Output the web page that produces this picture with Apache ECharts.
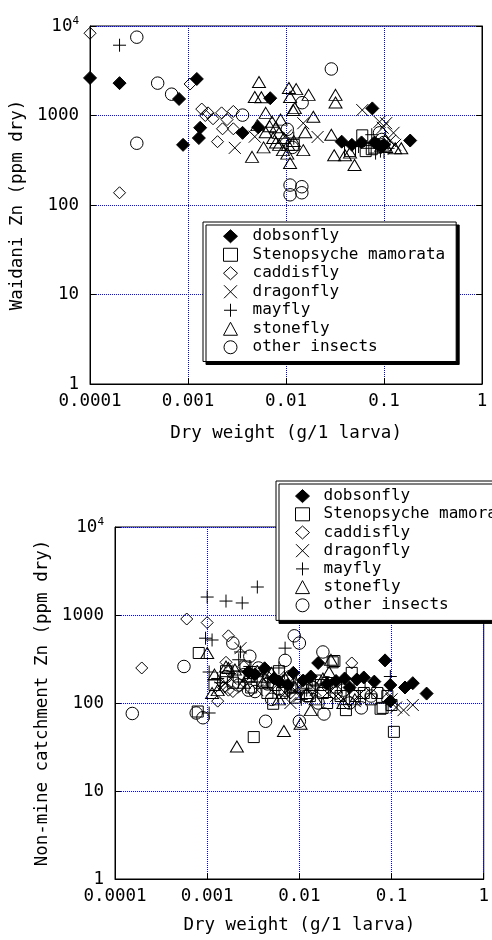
<!DOCTYPE html>
<html>
<head>
<meta charset="utf-8">
<script src="https://cdn.jsdelivr.net/npm/echarts@6/dist/echarts.min.js"></script>
<style>
html, body { margin: 0; padding: 0; background: #fff; }
#chart { width: 492px; height: 940px; }
</style>
</head>
<body>
<div id="chart"></div>
<script>
// categories (legend order)
var categories = ['dobsonfly', 'Stenopsyche mamorata', 'caddisfly', 'dragonfly', 'mayfly', 'stonefly', 'other insects'];

// tick labels
var xTickLabels = ['0.0001', '0.001', '0.01', '0.1', '1'];
var yTickLabels = ['1', '10', '100', '1000', '10^4'];

// Waidani (top)  [dry weight g/larva, Zn ppm]
var wDobsonfly = [[0.0001, 2630], [0.0002, 2300], [0.00081, 1530], [0.00123, 2560], [0.00089, 470], [0.00133, 730], [0.00129, 560], [0.0036, 640], [0.0052, 740], [0.0069, 1560], [0.037, 510], [0.047, 470], [0.059, 500], [0.076, 1200], [0.087, 470], [0.095, 450], [0.185, 525], [0.08, 500], [0.1, 470]];
var wStenopsyche = [[0.06, 600], [0.065, 400], [0.075, 420], [0.045, 400], [0.012, 470]];
var wCaddisfly = [[0.0001, 8300], [0.0002, 137], [0.00105, 2250], [0.00138, 1180], [0.0016, 1070], [0.0022, 1070], [0.0029, 1110], [0.00225, 710], [0.0029, 710], [0.002, 510], [0.0018, 920], [0.0025, 900], [0.0015, 1000]];
var wDragonfly = [[0.003, 435], [0.0048, 580], [0.015, 820], [0.021, 575], [0.06, 1150], [0.09, 850], [0.097, 730], [0.105, 820], [0.125, 640], [0.115, 520], [0.13, 470], [0.01, 600]];
var wMayfly = [[0.0002, 6100], [0.075, 610], [0.082, 380], [0.092, 400], [0.07, 430], [0.1, 390], [0.012, 560], [0.055, 450], [0.11, 430]];
var wStonefly = [[0.0053, 2370], [0.0048, 1610], [0.0056, 1600], [0.0107, 2030], [0.0127, 1970], [0.017, 1700], [0.011, 1610], [0.0118, 1150], [0.0123, 1210], [0.032, 1700], [0.032, 1400], [0.0062, 1070], [0.0051, 780], [0.0045, 345], [0.0072, 850], [0.0079, 740], [0.0062, 650], [0.0059, 440], [0.0074, 560], [0.0085, 640], [0.0085, 470], [0.0093, 410], [0.0079, 500], [0.0103, 375], [0.011, 294], [0.0157, 650], [0.015, 410], [0.019, 970], [0.029, 610], [0.031, 360], [0.04, 360], [0.045, 385], [0.05, 280], [0.105, 445], [0.13, 430], [0.15, 430], [0.0095, 560], [0.0105, 470], [0.012, 520], [0.0068, 760], [0.0088, 900]];
var wOther = [[0.0003, 7500], [0.00049, 2300], [0.00068, 1730], [0.0003, 490], [0.0036, 1010], [0.029, 3310], [0.0146, 1390], [0.011, 167], [0.0145, 160], [0.011, 130], [0.0145, 137], [0.0103, 700], [0.0116, 440], [0.09, 640], [0.095, 540], [0.1, 500]];

// Non-mine catchment (bottom)
var nDobsonfly = [[0.0033, 212], [0.0042, 248], [0.0053, 190], [0.0086, 220], [0.0133, 200], [0.016, 285], [0.031, 190], [0.042, 185], [0.05, 195], [0.065, 175], [0.085, 305], [0.097, 160], [0.097, 105], [0.14, 150], [0.17, 168], [0.24, 128], [0.006, 175], [0.011, 180], [0.02, 165], [0.025, 178], [0.0028, 225], [0.0075, 160], [0.035, 150]];
var nStenopsyche = [[0.00079, 80], [0.00081, 370], [0.003, 150], [0.0052, 98], [0.0032, 41], [0.023, 290], [0.032, 83], [0.076, 86], [0.106, 47], [0.05, 130], [0.024, 300], [0.037, 220], [0.08, 88], [0.0022, 200], [0.0026, 260], [0.004, 180], [0.0055, 160], [0.0065, 130], [0.0075, 180], [0.011, 150], [0.013, 120], [0.015, 180], [0.018, 130], [0.02, 100], [0.028, 120], [0.04, 120], [0.06, 110], [0.09, 120], [0.1, 95], [0.0016, 230], [0.0045, 130], [0.009, 115], [0.0012, 160], [0.0019, 170], [0.0035, 200], [0.006, 230], [0.008, 150], [0.012, 170], [0.017, 160], [0.025, 150], [0.045, 160], [0.07, 130]];
var nCaddisfly = [[0.000195, 250], [0.0006, 900], [0.001, 820], [0.0017, 580], [0.0013, 105], [0.0015, 150], [0.0017, 140], [0.0019, 135], [0.037, 285], [0.0016, 290], [0.0025, 260], [0.0045, 200], [0.022, 160], [0.008, 130]];
var nDragonfly = [[0.0014, 150], [0.0016, 170], [0.0018, 190], [0.0023, 420], [0.17, 95], [0.135, 83], [0.112, 89], [0.008, 100], [0.01, 120], [0.015, 140], [0.02, 130], [0.03, 110], [0.045, 125], [0.06, 130], [0.006, 200], [0.004, 230], [0.09, 130], [0.012, 180], [0.005, 140], [0.1, 110], [0.0025, 150], [0.0035, 140], [0.007, 130], [0.009, 140], [0.025, 120], [0.04, 105]];
var nMayfly = [[0.0035, 2080], [0.001, 1600], [0.0016, 1440], [0.0024, 1370], [0.00096, 545], [0.00113, 520], [0.0023, 380], [0.007, 420], [0.00105, 225], [0.00105, 77], [0.0022, 310], [0.0013, 190], [0.0019, 230], [0.0029, 260], [0.097, 200], [0.0105, 110], [0.0045, 170], [0.015, 160], [0.0014, 170], [0.003, 190], [0.006, 250], [0.012, 140]];
var nStonefly = [[0.001, 370], [0.0012, 210], [0.00113, 130], [0.0016, 260], [0.0021, 32], [0.0068, 48], [0.0103, 58], [0.0133, 83], [0.022, 310], [0.021, 225], [0.002, 240], [0.0028, 200], [0.004, 170], [0.0013, 140], [0.009, 150], [0.015, 110], [0.03, 100], [0.006, 110], [0.005, 220], [0.0017, 250], [0.0025, 170], [0.0035, 230], [0.007, 190], [0.012, 130], [0.018, 190], [0.04, 110]];
var nOther = [[0.000154, 76], [0.00056, 260], [0.00076, 77], [0.0009, 68], [0.0019, 480], [0.0029, 340], [0.0088, 580], [0.01, 480], [0.007, 305], [0.0043, 62], [0.01, 62], [0.0185, 75], [0.047, 88], [0.018, 380], [0.0033, 135], [0.0028, 140], [0.012, 120], [0.025, 130], [0.016, 100], [0.035, 100], [0.007, 140], [0.005, 110], [0.02, 170], [0.008, 200], [0.0036, 250], [0.0025, 210], [0.0045, 165], [0.006, 145], [0.009, 160], [0.014, 150], [0.03, 140], [0.06, 120], [0.0022, 160], [0.0016, 200]];

var FONT = 'DejaVu Sans Mono';

// marker look per category
var markers = [
    { symbol: 'diamond', size: 13, fill: '#000' },
    { symbol: 'rect', size: 11, fill: 'rgba(0,0,0,0)' },
    { symbol: 'diamond', size: 12, fill: 'rgba(0,0,0,0)' },
    { symbol: 'path://M0,0L10,10M10,0L0,10', size: 12, fill: 'rgba(0,0,0,0)' },
    { symbol: 'path://M5,0L5,10M0,5L10,5', size: 13, fill: 'rgba(0,0,0,0)' },
    { symbol: 'triangle', size: [13, 11], fill: 'rgba(0,0,0,0)' },
    { symbol: 'circle', size: 12.5, fill: 'rgba(0,0,0,0)' }
];

function makeSeries(lists, gi) {
    return lists.map(function (d, i) {
        return {
            name: categories[i],
            type: 'scatter',
            xAxisIndex: gi,
            yAxisIndex: gi,
            data: d,
            clip: false,
            symbol: markers[i].symbol,
            symbolSize: markers[i].size,
            itemStyle: { color: markers[i].fill, borderColor: '#000', borderWidth: 1, opacity: 1 },
            emphasis: { disabled: true },
            z: 3
        };
    });
}

function xAxis(gi, gap) {
    return {
        type: 'log', logBase: 10, gridIndex: gi, min: 0.0001, max: 1,
        name: 'Dry weight (g/1 larva)', nameLocation: 'middle', nameGap: gap,
        nameTextStyle: { fontFamily: FONT, fontSize: 17.5, color: '#000' },
        axisLine: { show: true, lineStyle: { color: '#000', width: 1 } },
        axisTick: { show: true, inside: true, length: 6, lineStyle: { color: '#000' } },
        axisLabel: {
            margin: 8, color: '#000', fontFamily: FONT, fontSize: 17.5,
            formatter: function (v) { return xTickLabels[Math.round(Math.log10(v)) + 4]; }
        },
        splitLine: { show: true, lineStyle: { color: '#0000ff', type: 'dotted', width: 1 } }
    };
}

function yAxis(gi, name, gap) {
    return {
        type: 'log', logBase: 10, gridIndex: gi, min: 1, max: 10000,
        name: name, nameLocation: 'middle', nameGap: gap, nameRotate: 90,
        nameTextStyle: { fontFamily: FONT, fontSize: 17.5, color: '#000' },
        axisLine: { show: true, lineStyle: { color: '#000', width: 1 } },
        axisTick: { show: true, inside: true, length: 6, lineStyle: { color: '#000' } },
        axisLabel: {
            margin: 11, color: '#000', fontFamily: FONT, fontSize: 17.5,
            formatter: function (v) {
                var s = yTickLabels[Math.round(Math.log10(v))];
                if (s.indexOf('^') > -1) {
                    var p = s.split('^');
                    return '{b|' + p[0] + '}{s|' + p[1] + '}';
                }
                return s;
            },
            rich: {
                b: { fontFamily: FONT, fontSize: 17.5, color: '#000', lineHeight: 20 },
                s: { fontFamily: FONT, fontSize: 11, color: '#000', verticalAlign: 'top', lineHeight: 11 }
            }
        },
        splitLine: { show: true, lineStyle: { color: '#0000ff', type: 'dotted', width: 1 } }
    };
}

// right-hand mirror axis (line + inward ticks) for the top panel
var rightTicks = {
    type: 'log', logBase: 10, gridIndex: 0, min: 1, max: 10000, position: 'right',
    axisLine: { show: true, lineStyle: { color: '#000', width: 1 } },
    axisLabel: { show: false }, splitLine: { show: false },
    axisTick: { show: true, inside: true, length: 6, lineStyle: { color: '#000' } }
};

function legend(left, top, padding, textPad, lh) {
    return {
        data: categories,
        orient: 'vertical',
        left: left, top: top,
        padding: padding,
        itemWidth: 14, itemHeight: 13, itemGap: 0,
        backgroundColor: '#fff',
        borderColor: '#000', borderWidth: 1,
        shadowColor: '#000', shadowBlur: 0, shadowOffsetX: 3, shadowOffsetY: 3,
        selectedMode: false,
        itemStyle: { borderWidth: 1 },
        textStyle: { fontFamily: FONT, fontSize: 16, color: '#000', lineHeight: lh, padding: [0, 0, 0, textPad] }
    };
}

var chart = echarts.init(document.getElementById('chart'), null, { renderer: 'canvas' });
chart.setOption({
    animation: false,
    backgroundColor: '#fff',
    grid: [
        { left: 90, top: 26, width: 392, height: 358, show: true, borderColor: '#000', borderWidth: 1 },
        { left: 115, top: 527, width: 386, height: 352, show: true, borderColor: '#000', borderWidth: 1 }
    ],
    xAxis: [xAxis(0, 40), xAxis(1, 37)],
    yAxis: [yAxis(0, 'Waidani Zn (ppm dry)', 62), yAxis(1, 'Non-mine catchment Zn (ppm dry)', 59), rightTicks],
    legend: [
        legend(203, 222, [5, 11, 5, 20], 10, 18.5),
        legend(276, 481, [6, 11, 6, 19], 9, 18.2)
    ],
    series: makeSeries([wDobsonfly, wStenopsyche, wCaddisfly, wDragonfly, wMayfly, wStonefly, wOther], 0)
        .concat(makeSeries([nDobsonfly, nStenopsyche, nCaddisfly, nDragonfly, nMayfly, nStonefly, nOther], 1))
});
</script>
</body>
</html>
